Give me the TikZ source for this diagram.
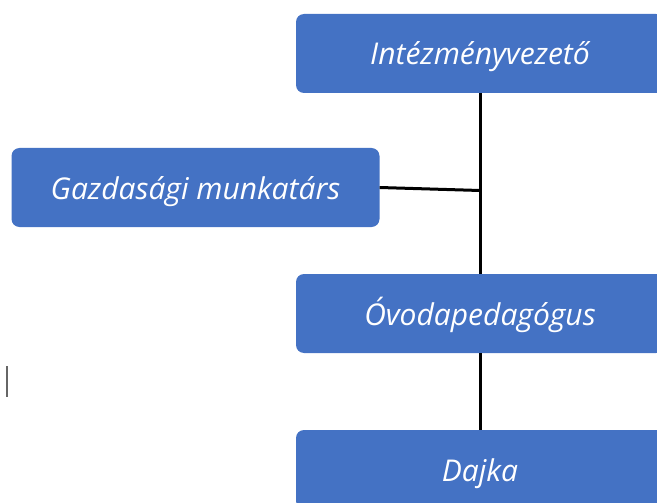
\documentclass[tikz,border=0pt]{standalone}
\usepackage{fontspec}
\setmainfont{Open Sans}
\definecolor{boxblue}{HTML}{4472C4}
\begin{document}
\begin{tikzpicture}[x=1pt,y=-1pt,
  orgbox/.style={fill=boxblue, draw=none, rounded corners=8pt, minimum width=368pt, minimum height=79pt, inner sep=0pt, text height=27pt, text depth=4pt, text=white, font=\itshape\fontsize{30}{34}\selectfont},
  link/.style={draw=black, line width=3pt}]
\useasboundingbox (0,0) rectangle (657,503);
\clip (0,0) rectangle (657,503);
\node[orgbox] (iv) at (480,53.5) {Intézményvezető};
\node[orgbox] (gm) at (195.5,187.5) {Gazdasági munkatárs};
\node[orgbox] (op) at (480,313.5) {Óvodapedagógus};
\node[orgbox] (dj) at (480,469.5) {Dajka};
\coordinate (j) at (480,190.5);
\draw[link] (iv.south) -- (op.north);
\draw[link] (gm.east) -- (j);
\draw[link] (op.south) -- (dj.north);
\draw[gray!80!black, line width=1.5pt] (7,366) -- (7,397);
\end{tikzpicture}
\end{document}
